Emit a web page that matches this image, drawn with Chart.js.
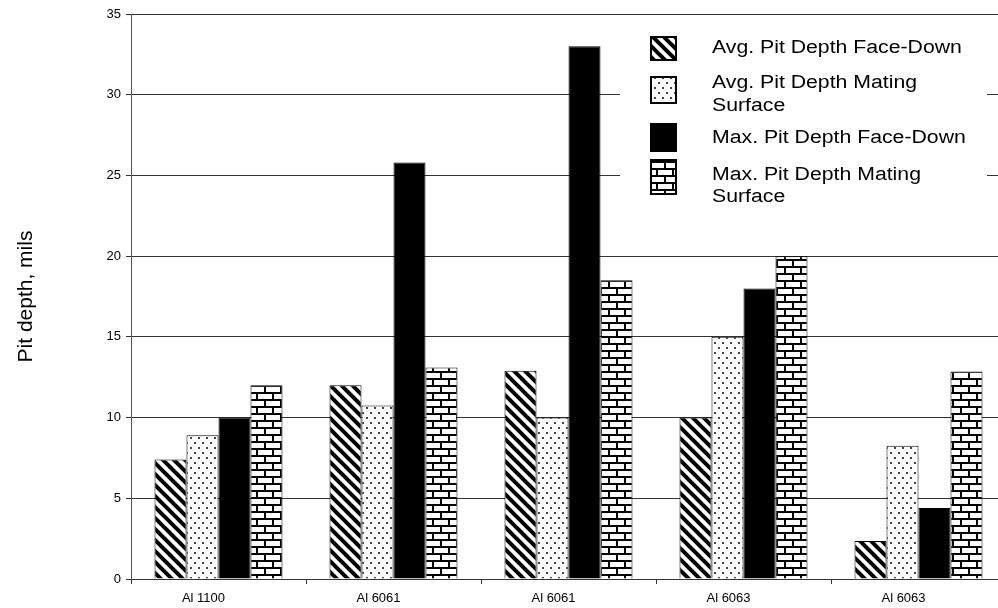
<!DOCTYPE html>
<html>
<head>
<meta charset="utf-8">
<script src="https://cdn.jsdelivr.net/npm/chart.js@4.4.0/dist/chart.umd.min.js"></script>
<style>
  html, body { margin: 0; padding: 0; background: #fff; overflow: hidden; }
  #wrap { width: 998px; height: 608px; overflow: hidden; }
  canvas { display: block; }
</style>
</head>
<body>
<div id="wrap"><canvas id="chart" width="1008" height="608"></canvas></div>
<script>
// data
const categories = ["Al 1100", "Al 6061", "Al 6061", "Al 6063", "Al 6063"];
const seriesNames = [
  "Avg. Pit Depth Face-Down",
  "Avg. Pit Depth Mating Surface",
  "Max. Pit Depth Face-Down",
  "Max. Pit Depth Mating Surface"
];
const avgFaceDown = [7.4, 12, 12.9, 10, 2.35];
const avgMating = [8.9, 10.75, 10, 15, 8.25];
const maxFaceDown = [10, 25.8, 33, 18, 4.4];
const maxMating = [12, 13.1, 18.5, 20, 12.85];
const yMin = 0, yMax = 35, yStep = 5;

const FONT = "'Liberation Sans', Arial, Helvetica, sans-serif";

function makeTile(w, h, draw) {
  let c = document.createElement("canvas");
  c.width = w;
  c.height = h;
  let g = c.getContext("2d");
  g.fillStyle = "#fff";
  g.fillRect(0, 0, w, h);
  draw(g);
  return c;
}

let ctx = document.getElementById("chart").getContext("2d");

// diagonal stripes "\"
let hatchTile = makeTile(11, 11, (g) => {
  g.strokeStyle = "#000";
  g.lineWidth = 4;
  for (let k = -1; k <= 1; k++) {
    g.beginPath();
    g.moveTo(k * 11 - 2, -2);
    g.lineTo(k * 11 + 13, 13);
    g.stroke();
  }
});
// small staggered dots
let dotTile = makeTile(16, 10, (g) => {
  g.fillStyle = "#444";
  g.fillRect(2, 2, 2, 2);
  g.fillRect(10, 2, 2, 2);
  g.fillRect(6, 7, 2, 2);
  g.fillRect(14, 7, 2, 2);
});
// bricks
let brickTile = makeTile(16, 14, (g) => {
  g.fillStyle = "#000";
  g.fillRect(0, 0, 16, 2);
  g.fillRect(0, 7, 16, 2);
  g.fillRect(0, 2, 2, 5);
  g.fillRect(8, 9, 2, 5);
});

let fills = [
  ctx.createPattern(hatchTile, "repeat"),
  ctx.createPattern(dotTile, "repeat"),
  "#000",
  ctx.createPattern(brickTile, "repeat")
];
let seriesData = [avgFaceDown, avgMating, maxFaceDown, maxMating];

// legend drawn inside the plot, on a white box
const legendBox = {
  id: "legendBox",
  afterDraw(chart) {
    let c = chart.ctx;
    c.save();
    c.fillStyle = "#fff";
    c.fillRect(620, 20, 367, 193);
    let icons = [
      [651, 37, 25, 23],
      [651, 77, 25, 26],
      [651, 124, 25, 27],
      [651, 160, 25, 34]
    ];
    let lines = [
      [["Avg. Pit Depth Face-Down", 48]],
      [["Avg. Pit Depth Mating", 83], ["Surface", 106]],
      [["Max. Pit Depth Face-Down", 138]],
      [["Max. Pit Depth Mating", 175], ["Surface", 197]]
    ];
    for (let i = 0; i < 4; i++) {
      let r = icons[i];
      c.fillStyle = fills[i];
      c.fillRect(r[0], r[1], r[2], r[3]);
      c.strokeStyle = "#000";
      c.lineWidth = 2;
      c.strokeRect(r[0], r[1], r[2], r[3]);
      c.fillStyle = "#000";
      c.font = "18px " + FONT;
      c.textBaseline = "middle";
      c.textAlign = "left";
      lines[i].forEach((ln) => {
        c.save();
        c.translate(712, ln[1]);
        c.scale(1.18, 1);
        c.fillText(ln[0], 0, 0);
        c.restore();
      });
    }
    c.restore();
  }
};

var chart = new Chart(ctx, {
  type: "bar",
  data: {
    labels: categories,
    datasets: seriesData.map((d, i) => ({
      label: seriesNames[i],
      data: d,
      backgroundColor: fills[i],
      borderColor: "#000",
      borderWidth: 1,
      borderSkipped: "bottom",
      categoryPercentage: 0.7314,
      barPercentage: 1
    }))
  },
  options: {
    responsive: false,
    animation: false,
    layout: { padding: { top: 14, right: 2, bottom: 0, left: 0 } },
    plugins: {
      legend: { display: false },
      tooltip: { enabled: false }
    },
    scales: {
      x: {
        afterFit: (s) => { s.height = 29; },
        grid: {
          offset: true,
          drawOnChartArea: false,
          drawTicks: true,
          tickLength: 5,
          color: "#333"
        },
        border: { color: "#333", width: 1 },
        ticks: {
          color: "#000",
          font: { family: FONT, size: 13 },
          padding: 7,
          labelOffset: -15,
          maxRotation: 0,
          autoSkip: false
        }
      },
      y: {
        min: yMin,
        max: yMax,
        afterFit: (s) => { s.width = 131; },
        grid: {
          color: "#333",
          lineWidth: 1,
          tickLength: 5
        },
        border: { color: "#555", width: 1 },
        ticks: {
          stepSize: yStep,
          color: "#000",
          font: { family: FONT, size: 13 },
          padding: 5
        },
        title: {
          display: true,
          text: "Pit depth, mils",
          color: "#000",
          font: { family: FONT, size: 21 },
          padding: { top: 14, bottom: 0 }
        }
      }
    }
  },
  plugins: [legendBox]
});
</script>
</body>
</html>
